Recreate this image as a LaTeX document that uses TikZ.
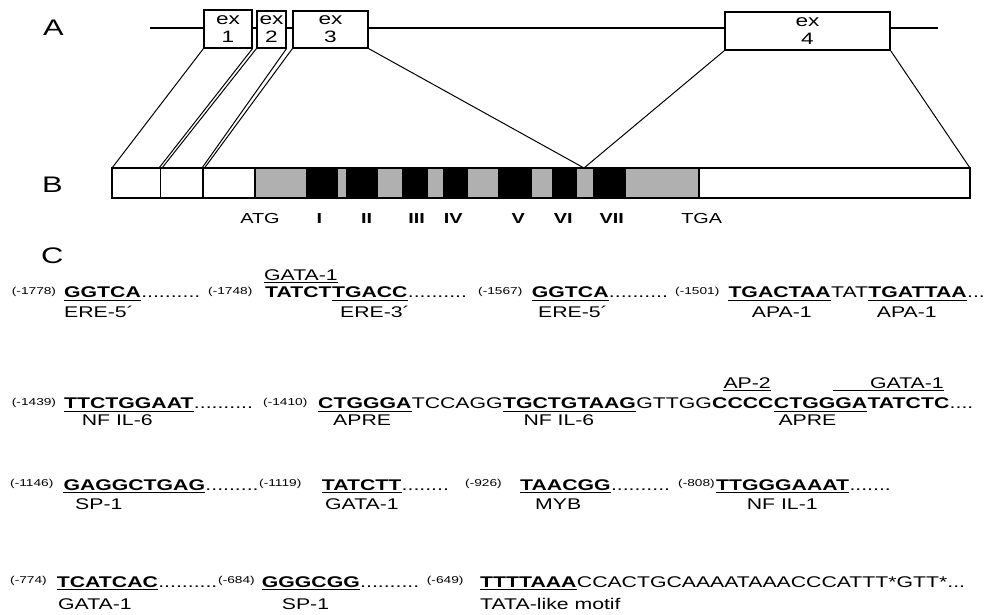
\documentclass[tikz,border=0pt]{standalone}
\usepackage{fontspec}
\setmainfont{Liberation Sans}[FakeStretch=1.37]
\usetikzlibrary{calc}
\definecolor{cdsgray}{RGB}{176,176,176}
\newcommand\seqline[1]{\draw[uline] ([yshift=-2.6pt]#1.base west) -- ([yshift=-2.6pt]#1.base east);}
\tikzset{
  bsq/.style={inner sep=0pt, anchor=base west, font=\fontsize{15.5}{18}\selectfont\bfseries},
  rsq/.style={inner sep=0pt, anchor=base west, font=\fontsize{15.5}{18}\selectfont},
  pnum/.style={inner sep=0pt, anchor=base west, font=\fontsize{10}{12}\selectfont},
  site/.style={inner sep=0pt, anchor=base west, font=\fontsize{15.5}{18}\selectfont},
  uline/.style={line width=1.2pt},
  exon/.style={draw, fill=white, line width=1.1pt, align=center, inner sep=0pt,
    font=\fontsize{16.5}{18}\selectfont},
  geneline/.style={line width=1.7pt},
  link/.style={line width=1pt},
  barline/.style={line width=1.2pt},
  tickr/.style={inner sep=0pt, anchor=base, font=\fontsize{14.5}{17}\selectfont},
  tickb/.style={inner sep=0pt, anchor=base, font=\fontsize{14.5}{17}\selectfont\bfseries},
  panel/.style={inner sep=0pt, anchor=base west, font=\fontsize{22.5}{26}\selectfont},
}
\begin{document}
\begin{tikzpicture}[x=1pt,y=-1pt]
\useasboundingbox (0,0) rectangle (997,615);

% ---------- panel labels ----------
\node[panel] (labA) at (43,35.5) {A};
\node[panel] (labB) at (42,192.5) {B};
\node[panel] (labC) at (41,263) {C};

% ---------- A: gene with four exons ----------
\coordinate (gL) at (150,28);
\coordinate (gR) at (938,28);
\draw[geneline] (gL) -- (gR);
\node[exon, minimum width=48pt, minimum height=38pt] (ex1) at (228,29) {ex\\1};
\node[exon, minimum width=29pt, minimum height=37pt] (ex2) at (271.5,29.5) {ex\\2};
\node[exon, minimum width=75pt, minimum height=37pt] (ex3) at (330.5,29.5) {ex\\3};
\node[exon, minimum width=165pt, minimum height=38pt] (ex4) at (807.5,31) {ex\\4};

% ---------- B: transcript bar ----------
\fill[cdsgray] (255,168) rectangle (699,198);
\foreach \a/\b in {306/338, 346/378, 402/428, 443/468, 498/532, 552/577, 593/626}
  \fill[black] (\a,168) rectangle (\b,198);
\draw[barline] (112,168) rectangle (970,198);
\foreach \x in {160.5, 203, 255, 699}
  \draw[barline] (\x,168) -- (\x,198);

\coordinate (b1) at (112,168);
\coordinate (b2) at (159,168);
\coordinate (b3) at (162,168);
\coordinate (b4) at (202,168);
\coordinate (b5) at (204.5,168);
\coordinate (b6) at (584,168);
\coordinate (b7) at (970,168);
\draw[link] (ex1.south west) -- (b1);
\draw[link] (ex1.south east) -- (b2);
\draw[link] (ex2.south west) -- (b3);
\draw[link] (ex2.south east) -- (b4);
\draw[link] (ex3.south west) -- (b5);
\draw[link] (ex3.south east) -- (b6);
\draw[link] (ex4.south west) -- (b6);
\draw[link] (ex4.south east) -- (b7);

\node[tickr] (tATG) at (260,223.5) {ATG};
\node[tickb] (tI)   at (319.3,223.5) {I};
\node[tickb] (tII)  at (366.7,223.5) {II};
\node[tickb] (tIII) at (416.7,223.5) {III};
\node[tickb] (tIV)  at (453.3,223.5) {IV};
\node[tickb] (tV)   at (518.3,223.5) {V};
\node[tickb] (tVI)  at (563.3,223.5) {VI};
\node[tickb] (tVII) at (611.7,223.5) {VII};
\node[tickr] (tTGA) at (701.7,223.5) {TGA};

% ---------- C: promoter elements, row 1 ----------
\node[pnum] (p1a) at (11.7,294.7) {(-1778)};
\node[bsq] (s1a) at (64,298) {GGTCA};
\node[rsq] (d1a) at (s1a.base east) {..........};
\node[pnum] (p1b) at (208,294.7) {(-1748)};
\node[bsq] (s1b) at (265,298) {TATCT};
\node[bsq] (s1c) at (s1b.base east) {TGACC};
\node[rsq] (d1b) at (s1c.base east) {..........};
\node[pnum] (p1c) at (478,294.7) {(-1567)};
\node[bsq] (s1d) at (531.7,298) {GGTCA};
\node[rsq] (d1c) at (s1d.base east) {..........};
\node[pnum] (p1d) at (675,294.7) {(-1501)};
\node[bsq] (s1e) at (728.3,298) {TGACTAA};
\node[rsq] (s1f) at (s1e.base east) {TAT};
\node[bsq] (s1g) at (s1f.base east) {TGATTAA};
\node[rsq] (d1d) at (s1g.base east) {...};
\seqline{s1a}\seqline{s1c}\seqline{s1d}\seqline{s1e}\seqline{s1g}
\node[site] (l1a) at (64,317) {ERE-5´};
\node[site] (l1b) at (264,280) {GATA-1};
\seqline{l1b}
\node[site] (l1c) at (340,317) {ERE-3´};
\node[site] (l1d) at (538,317) {ERE-5´};
\node[site] (l1e) at (751.7,317) {APA-1};
\node[site] (l1f) at (876.7,317) {APA-1};

% ---------- row 2 ----------
\node[pnum] (p2a) at (11.7,405.2) {(-1439)};
\node[bsq] (s2a) at (64,408.5) {TTCTGGAAT};
\node[rsq] (d2a) at (s2a.base east) {..........};
\node[pnum] (p2b) at (263,405.2) {(-1410)};
\node[bsq] (s2b) at (318,408.5) {CTGGGA};
\node[rsq] (s2c) at (s2b.base east) {TCCAGG};
\node[bsq] (s2d) at (s2c.base east) {TGCTGTAAG};
\node[rsq] (s2e) at (s2d.base east) {GTTGG};
\node[bsq] (s2f) at (s2e.base east) {CCCC};
\node[bsq] (s2g) at (s2f.base east) {CTGGGA};
\node[bsq] (s2h) at (s2g.base east) {TATCTC};
\node[rsq] (d2b) at (s2h.base east) {....};
\seqline{s2a}\seqline{s2b}\seqline{s2d}\seqline{s2g}
\node[site] (l2a) at (81.7,425) {NF IL-6};
\node[site] (l2b) at (333,425) {APRE};
\node[site] (l2c) at (523.3,425) {NF IL-6};
\node[site] (l2d) at (778.3,425) {APRE};
\node[site] (l2e) at (723.3,388) {AP-2};
\seqline{l2e}
\node[site] (l2f) at (870,388) {GATA-1};
\coordinate (g2s) at (833.3,390.6);
\draw[uline] (g2s) -- (g2s -| l2f.base east);

% ---------- row 3 ----------
\node[pnum] (p3a) at (10,486.7) {(-1146)};
\node[bsq] (s3a) at (63.3,490) {GAGGCTGAG};
\node[rsq] (d3a) at (s3a.base east) {.........};
\node[pnum] (p3b) at (259,486.7) {(-1119)};
\node[bsq] (s3b) at (321.7,490) {TATCTT};
\node[rsq] (d3b) at (s3b.base east) {........};
\node[pnum] (p3c) at (465,486.7) {(-926)};
\node[bsq] (s3c) at (520,490) {TAACGG};
\node[rsq] (d3c) at (s3c.base east) {..........};
\node[pnum] (p3d) at (678,486.7) {(-808)};
\node[bsq] (s3d) at (716,490) {TTGGGAAAT};
\node[rsq] (d3d) at (s3d.base east) {.......};
\seqline{s3a}\seqline{s3b}\seqline{s3c}\seqline{s3d}
\node[site] (l3a) at (75,509) {SP-1};
\node[site] (l3b) at (325,509) {GATA-1};
\node[site] (l3c) at (535,509) {MYB};
\node[site] (l3d) at (746.7,509) {NF IL-1};

% ---------- row 4 ----------
\node[pnum] (p4a) at (10,583.7) {(-774)};
\node[bsq] (s4a) at (56.7,587) {TCATCAC};
\node[rsq] (d4a) at (s4a.base east) {..........};
\node[pnum] (p4b) at (218,583.7) {(-684)};
\node[bsq] (s4b) at (261.7,587) {GGGCGG};
\node[rsq] (d4b) at (s4b.base east) {..........};
\node[pnum] (p4c) at (426.7,583.7) {(-649)};
\node[bsq] (s4c) at (480,587) {TTTTAAA};
\node[rsq] (s4d) at (s4c.base east) {CCACTGCAAAATAAACCCATTT*GTT*...};
\seqline{s4a}\seqline{s4b}\seqline{s4c}
\node[site] (l4a) at (58,609) {GATA-1};
\node[site] (l4b) at (281.7,609) {SP-1};
\node[site] (l4c) at (480,609) {TATA-like motif};
\end{tikzpicture}
\end{document}
